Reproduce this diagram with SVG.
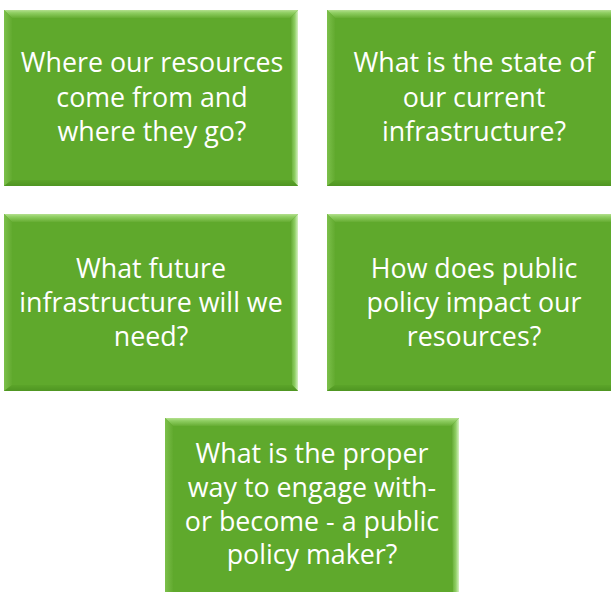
<svg xmlns="http://www.w3.org/2000/svg" width="611" height="592" viewBox="0 0 611 592">
  <defs>
    <linearGradient id="topBevel" x1="0" y1="0" x2="0" y2="1">
      <stop offset="0" stop-color="#b4e08f"/>
      <stop offset="0.35" stop-color="#8fce62"/>
      <stop offset="1" stop-color="#66ad33"/>
    </linearGradient>
    <linearGradient id="leftBevel" x1="0" y1="0" x2="1" y2="0">
      <stop offset="0" stop-color="#7cc04b"/>
      <stop offset="1" stop-color="#62aa2f"/>
    </linearGradient>
    <linearGradient id="rightBevel" x1="0" y1="0" x2="1" y2="0">
      <stop offset="0" stop-color="#5aa128"/>
      <stop offset="0.6" stop-color="#8fcf64"/>
      <stop offset="1" stop-color="#d6f0c3"/>
    </linearGradient>
    <linearGradient id="bottomBevel" x1="0" y1="0" x2="0" y2="1">
      <stop offset="0" stop-color="#5ba429"/>
      <stop offset="1" stop-color="#4f9522"/>
    </linearGradient>
  </defs>
  <style>
    .face { fill: #5fa92c; }
    .t { fill: #ffffff; font-family: "Open Sans", "Liberation Sans", sans-serif; font-size: 26.8px; text-anchor: middle; }
  </style>
  <rect width="611" height="592" fill="#ffffff"/>

  <!-- Box 1: resources -->
  <g id="box-resources" transform="translate(4,10)">
    <rect class="face" width="294" height="176"/>
    <polygon points="0,0 294,0 286,8 8,8" fill="url(#topBevel)"/>
    <polygon points="0,0 8,8 8,170 0,176" fill="url(#leftBevel)"/>
    <polygon points="294,0 294,176 288,170 286,8" fill="url(#rightBevel)"/>
    <polygon points="0,176 8,170 288,170 294,176" fill="url(#bottomBevel)"/>
    <text class="t" x="148" y="62">Where our resources</text>
    <text class="t" x="148" y="96.5">come from and</text>
    <text class="t" x="148" y="131">where they go?</text>
  </g>

  <!-- Box 2: current infrastructure -->
  <g id="box-current" transform="translate(327,10)">
    <rect class="face" width="294" height="176"/>
    <polygon points="0,0 294,0 286,8 8,8" fill="url(#topBevel)"/>
    <polygon points="0,0 8,8 8,170 0,176" fill="url(#leftBevel)"/>
    <polygon points="0,176 8,170 288,170 294,176" fill="url(#bottomBevel)"/>
    <text class="t" x="147" y="62">What is the state of</text>
    <text class="t" x="147" y="96.5">our current</text>
    <text class="t" x="147" y="131">infrastructure?</text>
  </g>

  <!-- Box 3: future infrastructure -->
  <g id="box-future" transform="translate(4,214)">
    <rect class="face" width="294" height="177"/>
    <polygon points="0,0 294,0 286,8 8,8" fill="url(#topBevel)"/>
    <polygon points="0,0 8,8 8,171 0,177" fill="url(#leftBevel)"/>
    <polygon points="294,0 294,177 288,171 286,8" fill="url(#rightBevel)"/>
    <polygon points="0,177 8,171 288,171 294,177" fill="url(#bottomBevel)"/>
    <text class="t" x="147" y="64">What future</text>
    <text class="t" x="147" y="98">infrastructure will we</text>
    <text class="t" x="147" y="132">need?</text>
  </g>

  <!-- Box 4: public policy impact -->
  <g id="box-policy" transform="translate(327,214)">
    <rect class="face" width="294" height="177"/>
    <polygon points="0,0 294,0 286,8 8,8" fill="url(#topBevel)"/>
    <polygon points="0,0 8,8 8,171 0,177" fill="url(#leftBevel)"/>
    <polygon points="0,177 8,171 288,171 294,177" fill="url(#bottomBevel)"/>
    <text class="t" x="147" y="64">How does public</text>
    <text class="t" x="147" y="98">policy impact our</text>
    <text class="t" x="147" y="132">resources?</text>
  </g>

  <!-- Box 5: engaging with policy makers -->
  <g id="box-engage" transform="translate(165,418)">
    <rect class="face" width="294" height="180"/>
    <polygon points="0,0 294,0 286,8 8,8" fill="url(#topBevel)"/>
    <polygon points="0,0 8,8 8,180 0,180" fill="url(#leftBevel)"/>
    <polygon points="294,0 294,180 288,180 286,8" fill="url(#rightBevel)"/>
    <text class="t" x="147" y="45">What is the proper</text>
    <text class="t" x="147" y="79">way to engage with-</text>
    <text class="t" x="147" y="113">or become - a public</text>
    <text class="t" x="147" y="146">policy maker?</text>
  </g>
</svg>
